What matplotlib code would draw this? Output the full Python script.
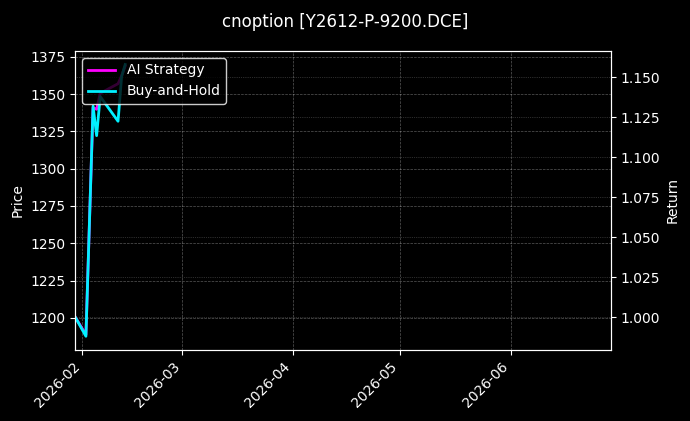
import pandas as pd
import numpy as np
import matplotlib
matplotlib.use('Agg')
import matplotlib.pyplot as plt
import matplotlib.dates as mdates

plt.style.use('dark_background')

# %% data
dates = pd.to_datetime(['2026-01-30', '2026-02-02', '2026-02-04', '2026-02-05',
                        '2026-02-06', '2026-02-11', '2026-02-12', '2026-02-13'])
ai_strategy = [1.000, 0.989, 1.131, 1.130, 1.140, 1.146, 1.151, 1.157]
buy_and_hold = [1.000, 0.988, 1.132, 1.1135, 1.138, 1.1225, 1.1505, 1.158]
price_range = [1178.5, 1379]
x_range = pd.to_datetime(['2026-01-30', '2026-06-29'])

# %% plot
fig, ax1 = plt.subplots(figsize=(6.9, 4.21), dpi=100)
fig.subplots_adjust(left=0.109, right=0.885, top=0.879, bottom=0.169)
ax2 = ax1.twinx()

ax2.plot(dates, ai_strategy, color='#ff00ff', linewidth=2, label='AI Strategy')
ax2.plot(dates, buy_and_hold, color='#00f0ff', linewidth=2, label='Buy-and-Hold')

ax1.set_ylim(price_range)
ax1.set_yticks(np.arange(1200, 1376, 25))
ax1.set_xlim(x_range)
ax1.set_ylabel('Price')
ax2.set_ylabel('Return')
ax2.set_yticks([1.000, 1.025, 1.050, 1.075, 1.100, 1.125, 1.150])

ax1.grid(True, linestyle='--', linewidth=0.5, alpha=0.35)
ax2.grid(True, linestyle=':', linewidth=0.5, alpha=0.35)

ax1.xaxis.set_major_locator(mdates.MonthLocator())
ax1.xaxis.set_major_formatter(mdates.DateFormatter('%Y-%m'))
plt.setp(ax1.get_xticklabels(), rotation=45, ha='right')

ax2.legend(loc='upper left', facecolor='black', edgecolor='white', framealpha=0.8)
fig.suptitle('cnoption [Y2612-P-9200.DCE]', fontsize=12, y=0.97)

plt.savefig('out.png', dpi=100)
